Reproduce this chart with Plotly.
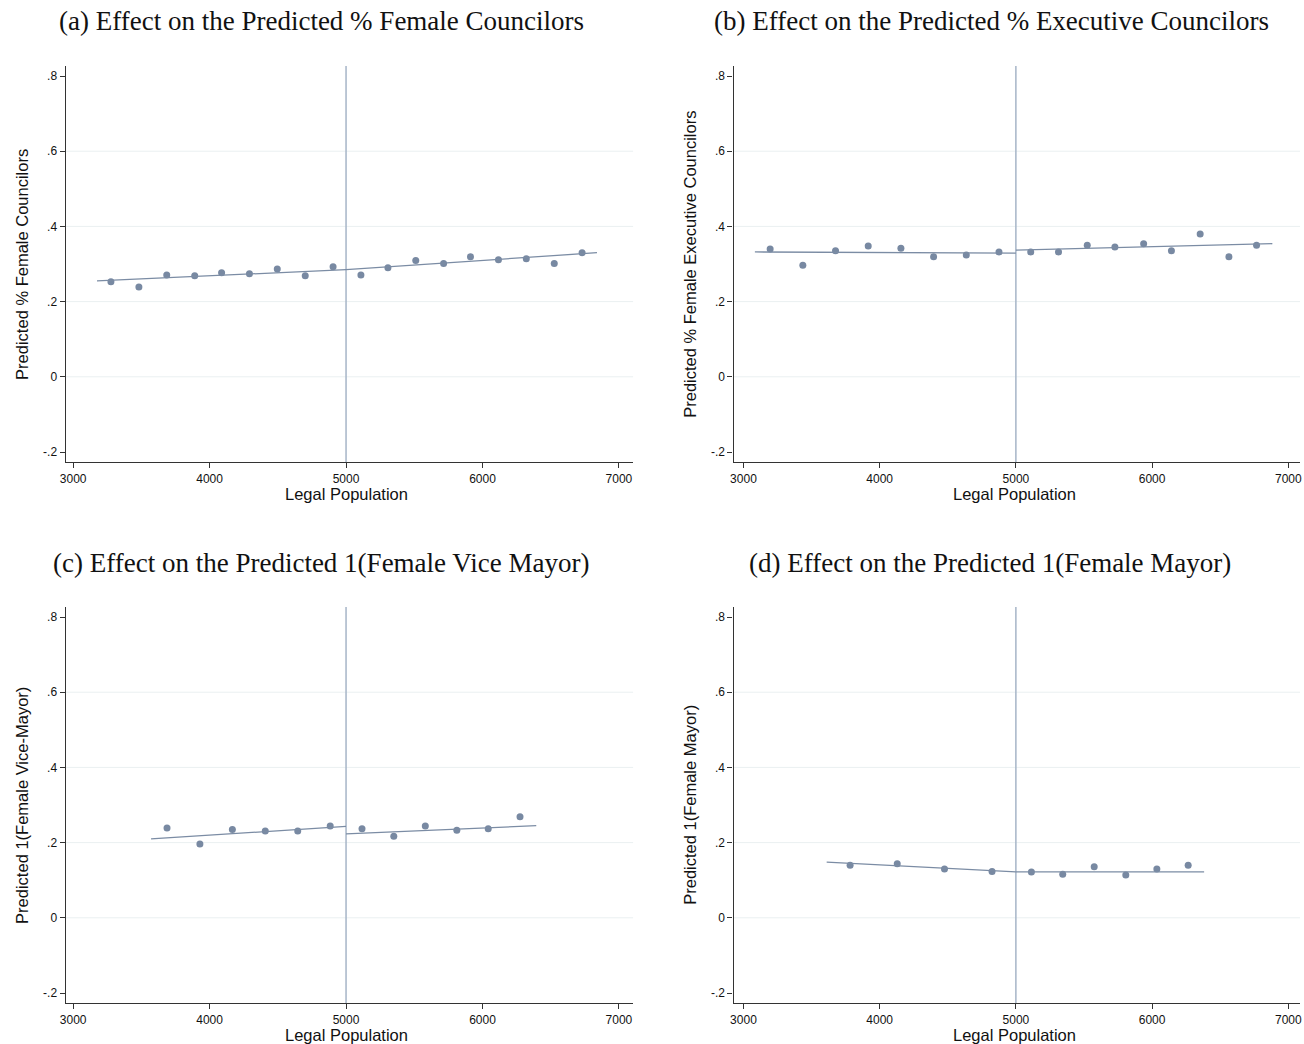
import plotly.graph_objects as go

# ---- binned means and fitted lines, one set per outcome ----
# (a) % female councilors
a_pop = [3277, 3482, 3686, 3891, 4088, 4292, 4496, 4701, 4905,
         5109, 5307, 5511, 5715, 5912, 6117, 6321, 6526, 6730]
a_val = [0.253, 0.239, 0.271, 0.269, 0.277, 0.274, 0.287, 0.269, 0.293,
         0.271, 0.290, 0.309, 0.301, 0.319, 0.311, 0.314, 0.301, 0.330]
a_fit_left_x = [3175, 5000]
a_fit_left_y = [0.255, 0.285]
a_fit_right_x = [5000, 6839]
a_fit_right_y = [0.285, 0.330]

# (b) % executive councilors
b_pop = [3196, 3436, 3676, 3916, 4156, 4396, 4636, 4876,
         5109, 5313, 5524, 5727, 5938, 6142, 6353, 6564, 6767]
b_val = [0.340, 0.297, 0.335, 0.348, 0.342, 0.319, 0.324, 0.332,
         0.332, 0.332, 0.350, 0.345, 0.354, 0.335, 0.380, 0.319, 0.350]
b_fit_left_x = [3084, 5000]
b_fit_left_y = [0.332, 0.329]
b_fit_right_x = [5000, 6883]
b_fit_right_y = [0.337, 0.354]

# (c) female vice mayor
c_pop = [3688, 3929, 4167, 4408, 4646, 4884,
         5117, 5350, 5581, 5812, 6042, 6275]
c_val = [0.239, 0.196, 0.235, 0.231, 0.231, 0.244,
         0.237, 0.217, 0.244, 0.233, 0.237, 0.269]
c_fit_left_x = [3571, 5000]
c_fit_left_y = [0.210, 0.243]
c_fit_right_x = [5000, 6394]
c_fit_right_y = [0.223, 0.245]

# (d) female mayor
d_pop = [3783, 4129, 4476, 4825,
         5114, 5344, 5575, 5807, 6035, 6265]
d_val = [0.140, 0.144, 0.130, 0.123,
         0.122, 0.116, 0.136, 0.114, 0.130, 0.140]
d_fit_left_x = [3611, 5000]
d_fit_left_y = [0.148, 0.122]
d_fit_right_x = [5000, 6382]
d_fit_right_y = [0.122, 0.122]

cutoff = 5000
x_ticks = [3000, 4000, 5000, 6000, 7000]
y_ticks = [-0.2, 0, 0.2, 0.4, 0.6, 0.8]
y_tick_text = ["-.2", "0", ".2", ".4", ".6", ".8"]
grid_levels = [0, 0.2, 0.4, 0.6]

panel_titles = [
    "(a) Effect on the Predicted % Female Councilors",
    "(b) Effect on the Predicted % Executive Councilors",
    "(c) Effect on the Predicted 1(Female Vice Mayor)",
    "(d) Effect on the Predicted 1(Female Mayor)",
]
y_titles = [
    "Predicted % Female Councilors",
    "Predicted % Female Executive Councilors",
    "Predicted 1(Female Vice-Mayor)",
    "Predicted 1(Female Mayor)",
]
x_title = "Legal Population"

panels = [
    (a_pop, a_val, a_fit_left_x, a_fit_left_y, a_fit_right_x, a_fit_right_y),
    (b_pop, b_val, b_fit_left_x, b_fit_left_y, b_fit_right_x, b_fit_right_y),
    (c_pop, c_val, c_fit_left_x, c_fit_left_y, c_fit_right_x, c_fit_right_y),
    (d_pop, d_val, d_fit_left_x, d_fit_left_y, d_fit_right_x, d_fit_right_y),
]

W, H = 1304, 1044
# pixel boxes of each plotting area: (left, right, top, bottom)
boxes = [
    (60, 631, 66, 462),
    (732, 1302, 66, 462),
    (60, 631, 607, 1003),
    (732, 1302, 607, 1003),
]
x_ranges = [[2945, 7104], [2927, 7086], [2945, 7104], [2927, 7086]]
title_centers = [(317, 21), (992, 21), (317, 563), (990, 563)]

DOT = "#7889a2"
LINE = "#7b8ca4"
VLINE = "#a6b5c7"
GRID = "#eaf0f1"
AXIS = "#333333"
SANS = "Liberation Sans, Arial, sans-serif"
SERIF = "Liberation Serif, Times New Roman, serif"

fig = go.Figure()
layout = dict(
    width=W, height=H,
    margin=dict(l=0, r=0, t=0, b=0),
    paper_bgcolor="white", plot_bgcolor="white",
    showlegend=False,
)
shapes = []
annotations = []

for i, (pop, val, flx, fly, frx, fry) in enumerate(panels):
    n = i + 1
    xa = "x" if n == 1 else f"x{n}"
    ya = "y" if n == 1 else f"y{n}"
    left, right, top, bottom = boxes[i]

    layout["xaxis" if n == 1 else f"xaxis{n}"] = dict(
        domain=[left / W, right / W],
        range=x_ranges[i],
        anchor=ya,
        tickvals=x_ticks,
        ticks="outside", ticklen=5, tickwidth=1, tickcolor=AXIS,
        showline=True, linecolor=AXIS, linewidth=1.2,
        showgrid=False, zeroline=False,
        tickfont=dict(family=SANS, size=12, color="#111"),
    )
    layout["yaxis" if n == 1 else f"yaxis{n}"] = dict(
        domain=[(H - bottom) / H, (H - top) / H],
        range=[-0.2266, 0.8266],
        anchor=xa,
        tickvals=y_ticks, ticktext=y_tick_text,
        ticks="outside", ticklen=5, tickwidth=1, tickcolor=AXIS,
        showline=True, linecolor=AXIS, linewidth=1.2,
        showgrid=False, zeroline=False,
        tickfont=dict(family=SANS, size=12, color="#111"),
    )

    # horizontal grid lines
    for g in grid_levels:
        shapes.append(dict(type="line", xref=f"{xa} domain", yref=ya,
                           x0=0, x1=1, y0=g, y1=g,
                           line=dict(color=GRID, width=1), layer="below"))
    # cutoff line
    shapes.append(dict(type="line", xref=xa, yref=f"{ya} domain",
                       x0=cutoff, x1=cutoff, y0=0, y1=1,
                       line=dict(color=VLINE, width=1.5), layer="below"))

    fig.add_trace(go.Scatter(x=pop, y=val, mode="markers", xaxis=xa, yaxis=ya,
                             marker=dict(color=DOT, size=7)))
    fig.add_trace(go.Scatter(x=flx, y=fly, mode="lines", xaxis=xa, yaxis=ya,
                             line=dict(color=LINE, width=1.3)))
    fig.add_trace(go.Scatter(x=frx, y=fry, mode="lines", xaxis=xa, yaxis=ya,
                             line=dict(color=LINE, width=1.3)))

    # panel title
    tcx, tcy = title_centers[i]
    annotations.append(dict(text=panel_titles[i], xref="paper", yref="paper",
                            x=tcx / W, y=1 - tcy / H,
                            xanchor="center", yanchor="middle", showarrow=False,
                            font=dict(family=SERIF, size=27, color="#111")))
    # x title
    annotations.append(dict(text=x_title, xref="paper", yref="paper",
                            x=[343, 1015, 343, 1015][i] / W, y=1 - (bottom + 32) / H,
                            xanchor="center", yanchor="middle", showarrow=False,
                            font=dict(family=SANS, size=16.5, color="#111")))
    # y title
    annotations.append(dict(text=y_titles[i], xref="paper", yref="paper",
                            x=(left - 44) / W, y=1 - ((top + bottom) / 2) / H,
                            xanchor="center", yanchor="middle", showarrow=False,
                            textangle=-90,
                            font=dict(family=SANS, size=16.5, color="#111")))

layout["shapes"] = shapes
layout["annotations"] = annotations
fig.update_layout(**layout)
fig.write_html("out.html")
